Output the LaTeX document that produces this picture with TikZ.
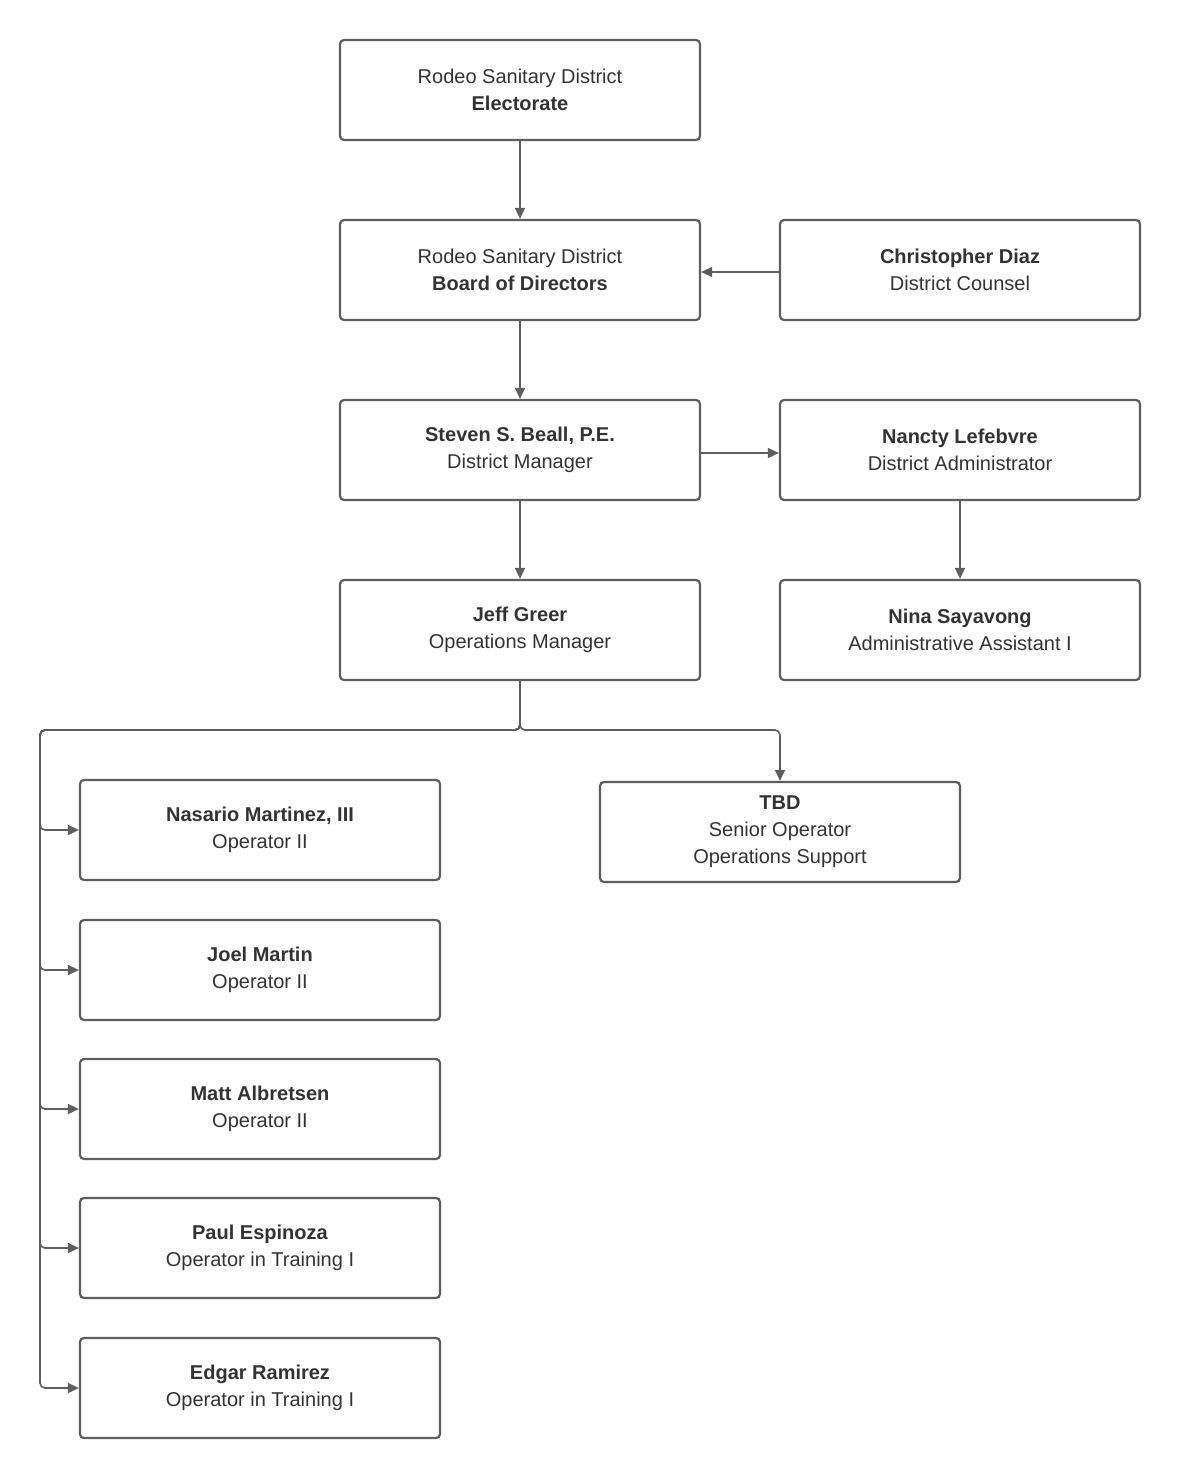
\documentclass[tikz,border=0pt]{standalone}
\usepackage{fontspec}
\setmainfont{Liberation Sans}
\usetikzlibrary{arrows.meta}
\definecolor{ln}{HTML}{5E5E5E}
\definecolor{tx}{HTML}{333333}
\begin{document}
\begin{tikzpicture}[x=1pt,y=-1pt,
 box/.style={draw=ln,line width=2.2pt,rounded corners=4pt,minimum width=360pt,minimum height=100pt,align=center,text=tx,font=\fontsize{20}{27}\selectfont,inner sep=0pt},
 arr/.style={draw=ln,line width=1.6pt,-{Triangle[length=11pt,width=10pt]},rounded corners=5pt}]
\useasboundingbox (0,0) rectangle (1180,1479);
\node[box] (el) at (520,90) {Rodeo Sanitary District\\\textbf{Electorate}};
\node[box] (bd) at (520,270) {Rodeo Sanitary District\\\textbf{Board of Directors}};
\node[box] (cd) at (960,270) {\textbf{Christopher Diaz}\\District Counsel};
\node[box] (sb) at (520,450) {\textbf{Steven S. Beall, P.E.}\\District Manager};
\node[box] (nl) at (960,450) {\textbf{Nancty Lefebvre}\\District Administrator};
\node[box] (jg) at (520,630) {\textbf{Jeff Greer}\\Operations Manager};
\node[box] (ns) at (960,630) {\textbf{Nina Sayavong}\\Administrative Assistant I};
\node[box] (tbd) at (780,832) {\textbf{TBD}\\Senior Operator\\Operations Support};
\node[box] (o1) at (260,830) {\textbf{Nasario Martinez, III}\\Operator II};
\node[box] (o2) at (260,970) {\textbf{Joel Martin}\\Operator II};
\node[box] (o3) at (260,1109) {\textbf{Matt Albretsen}\\Operator II};
\node[box] (o4) at (260,1248) {\textbf{Paul Espinoza}\\Operator in Training I};
\node[box] (o5) at (260,1388) {\textbf{Edgar Ramirez}\\Operator in Training I};
\coordinate (c) at (40,730);
\draw[arr] (el) -- (bd);
\draw[arr] (bd) -- (sb);
\draw[arr] (sb) -- (jg);
\draw[arr] (nl) -- (ns);
\draw[arr] (cd.west |- 0,272) -- (bd.east |- 0,272);
\draw[arr] (sb.east |- 0,453) -- (nl.west |- 0,453);
\draw[arr] (jg.south) |- (c) |- (o1.west);
\draw[arr] (jg.south) |- (c) |- (o2.west);
\draw[arr] (jg.south) |- (c) |- (o3.west);
\draw[arr] (jg.south) |- (c) |- (o4.west);
\draw[arr] (jg.south) |- (c) |- (o5.west);
\draw[arr] (jg.south) |- (780,730) -- (tbd.north);
\end{tikzpicture}
\end{document}
